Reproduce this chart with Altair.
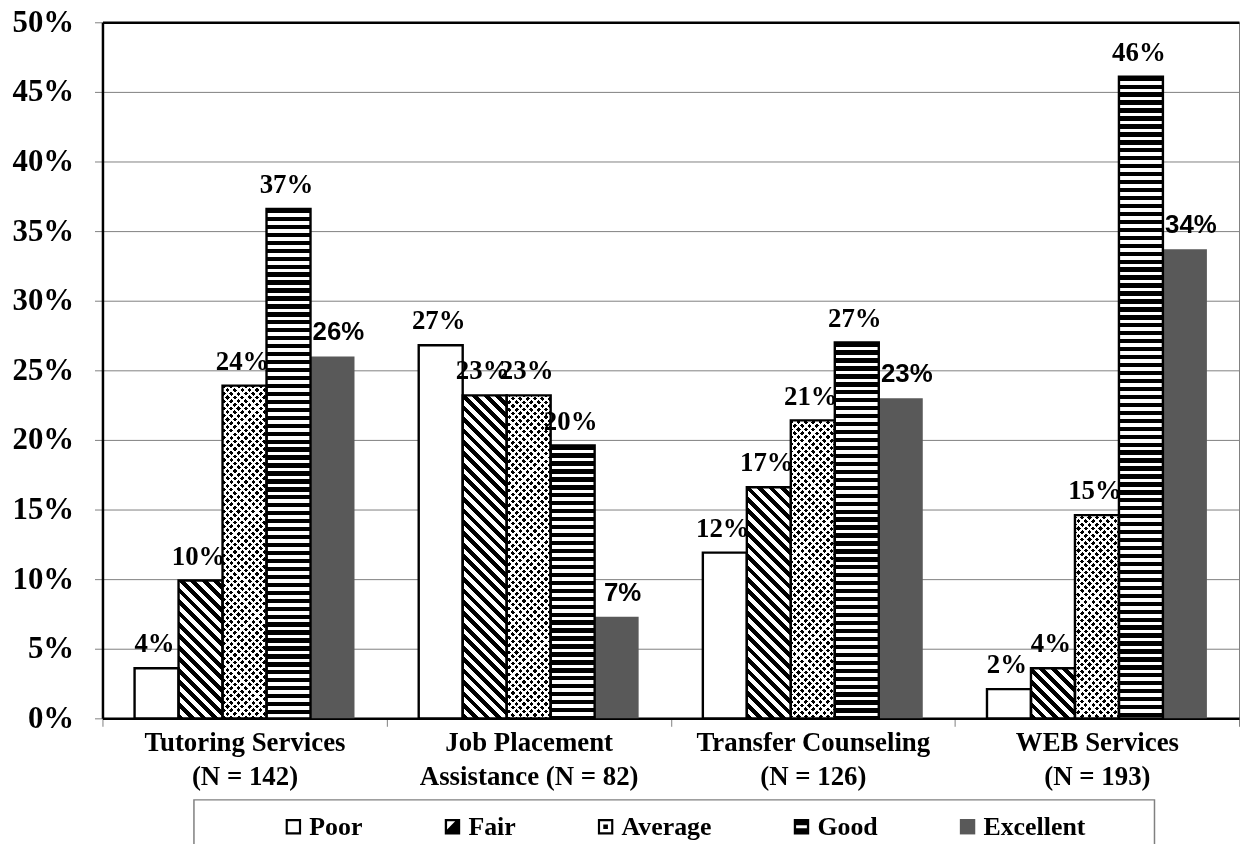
import altair as alt

# ---------------- data ----------------
categories = ["Tutoring Services", "Job Placement", "Transfer Counseling", "WEB Services"]
second_lines = ["(N = 142)", "Assistance (N = 82)", "(N = 126)", "(N = 193)"]
ratings = ["Poor", "Fair", "Average", "Good", "Excellent"]
poor = [3.6, 26.8, 11.9, 2.1]
fair = [9.9, 23.2, 16.6, 3.6]
average = [23.9, 23.2, 21.4, 14.6]
good = [36.6, 19.6, 27.0, 46.1]
excellent = [26.0, 7.3, 23.0, 33.7]
y_ticks = [0, 5, 10, 15, 20, 25, 30, 35, 40, 45, 50]

series = {"Poor": poor, "Fair": fair, "Average": average, "Good": good, "Excellent": excellent}

# ---------------- layout / style ----------------
PLOT_W, PLOT_H = 1143, 700
Y_MAX = 50
PX_PER_PCT = PLOT_H / Y_MAX
OUTER_PAD = 0.73
BAR_W = PLOT_W / len(categories) / (len(ratings) + 2 * OUTER_PAD)
EXCEL_GRAY = "#595959"


def stops_for(L, period, dark):
    out = []
    s = 0.0
    while s < L - 1e-9:
        a = round(s / L, 5)
        b = round(min(s + dark, L) / L, 5)
        c = round(min(s + period, L) / L, 5)
        out += [{"offset": a, "color": "black"}, {"offset": b, "color": "black"},
                {"offset": b, "color": "white"}, {"offset": c, "color": "white"}]
        s += period
    return out


def hstripes(h):
    return {"gradient": "linear", "x1": 0, "y1": 0, "x2": 0, "y2": 1,
            "stops": stops_for(h, 8.0, 4.3)}


def diag_back(w, h, period, dark):  # "\" stripes
    k = (w + h) / (w * w + h * h)
    return {"gradient": "linear", "x1": 0, "y1": 1, "x2": k * w, "y2": 1 - k * h,
            "stops": stops_for(w + h, period, dark)}


def diag_fwd(w, h, period, dark):  # "/" stripes
    k = (w + h) / (w * w + h * h)
    return {"gradient": "linear", "x1": 0, "y1": 0, "x2": k * w, "y2": k * h,
            "stops": stops_for(w + h, period, dark)}


records = []
for ci, cat in enumerate(categories):
    label = cat + "|" + second_lines[ci]
    for r in ratings:
        v = series[r][ci]
        h = v * PX_PER_PCT
        if r == "Poor":
            fa, fb = "white", "white"
        elif r == "Fair":
            fa, fb = diag_back(BAR_W, h, 11.5, 5.8), "white"
        elif r == "Average":
            fa, fb = diag_back(BAR_W, h, 7.4, 4.3), diag_fwd(BAR_W, h, 7.4, 4.3)
        elif r == "Good":
            fa, fb = hstripes(h), "white"
        else:
            fa, fb = EXCEL_GRAY, EXCEL_GRAY
        records.append({"category": label, "rating": r, "value": v, "fillA": fa, "fillB": fb})

data = alt.Data(values=records)
cat_domain = [c + "|" + s for c, s in zip(categories, second_lines)]

x_enc = alt.X("category:N", sort=cat_domain, title=None,
              scale=alt.Scale(paddingInner=0, paddingOuter=0),
              axis=alt.Axis(labelExpr="split(datum.label, '|')", labelAngle=0,
                            labelFont="Liberation Serif", labelFontSize=27, labelFontWeight="bold",
                            labelColor="black", labelLineHeight=35, labelPadding=3,
                            labelBaseline="top", labelLimit=400,
                            tickBand="extent", tickSize=8, tickColor="#808080", tickWidth=1,
                            domainColor="black", domainWidth=2.5, grid=False))
xo_enc = alt.XOffset("rating:N", sort=ratings,
                     scale=alt.Scale(paddingInner=0, paddingOuter=OUTER_PAD))
y_enc = alt.Y("value:Q", title=None,
              scale=alt.Scale(domain=[0, Y_MAX], nice=False),
              axis=alt.Axis(values=y_ticks, labelExpr="datum.value + '%'",
                            labelFont="Liberation Serif", labelFontSize=31, labelFontWeight="bold",
                            labelColor="black", labelPadding=21,
                            tickSize=8, tickColor="#808080", tickWidth=1,
                            domainColor="black", domainWidth=2.5,
                            grid=True,
                            gridColor={"condition": {"test": "datum.value >= 50", "value": "black"},
                                       "value": "#808080"},
                            gridWidth={"condition": {"test": "datum.value >= 50", "value": 2.5},
                                       "value": 1}))

base = alt.Chart(data)

bars_a = base.mark_bar(strokeWidth=0).encode(
    x=x_enc, xOffset=xo_enc, y=y_enc,
    fill=alt.Fill("fillA:N", scale=None),
)

bars_b = base.transform_filter("datum.rating == 'Average'").mark_bar(
    strokeWidth=0, blend="screen"
).encode(
    x=x_enc, xOffset=xo_enc, y=y_enc,
    fill=alt.Fill("fillB:N", scale=None),
)

outline = base.transform_filter("datum.rating != 'Excellent'").mark_bar(
    fillOpacity=0, stroke="black", strokeWidth=2.4
).encode(x=x_enc, xOffset=xo_enc, y=y_enc)

lbl_serif = base.transform_filter("datum.rating != 'Excellent'").transform_calculate(
    lbl="format(datum.value, '.0f') + '%'"
).mark_text(font="Liberation Serif", fontSize=27, fontWeight="bold", color="black",
            baseline="alphabetic", dy=-16, dx=-2).encode(
    x=x_enc, xOffset=xo_enc, y=y_enc, text="lbl:N")

lbl_sans = base.transform_filter("datum.rating == 'Excellent'").transform_calculate(
    lbl="format(datum.value, '.0f') + '%'"
).mark_text(font="Liberation Sans", fontSize=26, fontWeight="bold", color="black",
            baseline="alphabetic", dy=-16, dx=6).encode(
    x=x_enc, xOffset=xo_enc, y=y_enc, text="lbl:N")

# legend (symbols drawn by Vega legend from hidden points)
legend_paths = [
    "M-1,-1H1V1H-1Z M-0.72,-0.72V0.72H0.72V-0.72Z",
    "M-1,-1H1V1H-1Z M-0.7,-0.7V0.35L0.35,-0.7Z",
    "M-1,-1H1V1H-1Z M-0.72,-0.72V0.72H0.72V-0.72Z M-0.3,-0.3H0.3V0.3H-0.3Z",
    "M-1,-1H1V1H-1Z M-0.7,-0.2V0.2H0.7V-0.2Z",
    "M-1,-1H1V1H-1Z",
]
legend_cols = ["black", "black", "black", "black", EXCEL_GRAY]
leg = alt.Legend(orient="none", legendX=179, legendY=796, direction="horizontal",
                 title=None, labelFont="Liberation Serif", labelFontSize=26,
                 labelFontWeight="bold", labelColor="black", labelOffset=3,
                 symbolSize=240, symbolStrokeWidth=0, symbolOpacity=1,
                 columnPadding=77, padding=0, labelLimit=300)

legend_pts = base.mark_point(filled=True, clip=True, size=240).encode(
    x=x_enc, xOffset=xo_enc, y=alt.value(-400),
    color=alt.Color("rating:N", sort=ratings,
                    scale=alt.Scale(domain=ratings, range=legend_cols), legend=leg),
    shape=alt.Shape("rating:N", sort=ratings,
                    scale=alt.Scale(domain=ratings, range=legend_paths), legend=leg),
)

legend_box = alt.Chart(alt.Data(values=[{"k": 0}])).mark_rect(
    fillOpacity=0, stroke="#808080", strokeWidth=1.5
).encode(x=alt.value(92), x2=alt.value(1058), y=alt.value(782), y2=alt.value(860))

chart = alt.layer(bars_a, bars_b, outline, lbl_serif, lbl_sans, legend_pts, legend_box).properties(
    width=PLOT_W, height=PLOT_H,
    autosize=alt.AutoSizeParams(type="none"),
    padding={"left": 95, "top": 12, "right": 2, "bottom": 124},
    background="white",
).configure_view(stroke="#808080", strokeWidth=1)

chart.save("out.html", embed_options={"renderer": "svg", "actions": False})
